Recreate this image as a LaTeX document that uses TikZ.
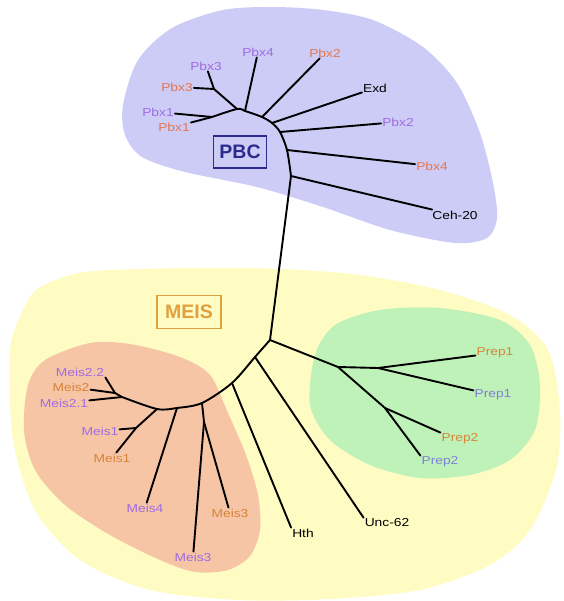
\documentclass[tikz,border=0pt]{standalone}
\usepackage{fontspec}
\setmainfont{Liberation Sans}
\newfontfamily\lblfont[FakeStretch=1.2]{Liberation Sans}

\definecolor{pbcbg}{HTML}{CCCCF7}
\definecolor{meisbg}{HTML}{FEFCC2}
\definecolor{meisonebg}{HTML}{F6C5A6}
\definecolor{prepbg}{HTML}{BFF2B8}
\definecolor{lilac}{HTML}{A06BE3}
\definecolor{pbxorange}{HTML}{E67650}
\definecolor{meisorange}{HTML}{D8843A}
\definecolor{prepblue}{HTML}{7F7FD8}
\definecolor{navy}{HTML}{2B2B8C}
\definecolor{gold}{HTML}{E0A040}

\begin{document}
\begin{tikzpicture}[x=1pt, y=-1pt,
    branch/.style={line width=1.9pt, line join=round, line cap=round},
    leaf/.style={inner sep=1pt, font=\fontsize{11.5}{12}\lblfont},
    pur/.style={leaf, text=lilac},
    org/.style={leaf, text=pbxorange},
    morg/.style={leaf, text=meisorange},
    blu/.style={leaf, text=prepblue},
    blk/.style={leaf, text=black},
    clade/.style={draw, line width=1.2pt, inner sep=2pt,
        font=\fontsize{19.5}{20}\selectfont\bfseries}]
    \useasboundingbox (0,0) rectangle (563,601);

    % Clades
    \fill [pbcbg] plot [smooth cycle] coordinates {(123,105) (138,60) (172,28)
        (223,10) (273,7) (323,10) (373,20) (423,47) (457,83) (480,133) (493,183)
        (497,218) (487,238) (455,243) (390,230) (323,207) (257,187) (185,172)
        (142,157) (125,135)};
    \fill [meisbg] plot [smooth cycle] coordinates {(10,352) (20,317) (36,290)
        (70,275) (110,270) (200,268) (280,269) (360,275) (440,290) (510,315)
        (548,350) (560,410) (556,470) (530,530) (490,565) (420,590) (330,599)
        (240,600) (150,590) (80,560) (35,510) (13,440)};
    \fill [meisonebg] plot [smooth cycle] coordinates {(28,385) (45,360) (90,343)
        (130,344) (180,357) (210,375) (228,413) (246,455) (258,495) (260,530)
        (250,556) (228,570) (195,572) (160,560) (110,535) (65,505) (35,470)
        (24,430)};
    \fill [prepbg] plot [smooth cycle] coordinates {(315,355) (335,325) (380,310)
        (440,308) (500,320) (530,345) (540,385) (535,430) (510,460) (470,475)
        (420,478) (370,465) (330,440) (310,405)};

    % Boxes
    \node [clade, draw=navy, text=navy, minimum width=53pt, minimum height=32pt]
        (pbc) at (240,152) {PBC};
    \node [clade, draw=gold, text=gold, minimum width=64pt, minimum height=33pt]
        (meis) at (189,312) {MEIS};

    % Inner nodes
    \coordinate (p1) at (212,117);
    \coordinate (p3) at (214,89);
    \coordinate (pA) at (237,109);
    \coordinate (pB) at (245,111);
    \coordinate (pC) at (262,117);
    \coordinate (pD) at (272,123);
    \coordinate (pE) at (280,132);
    \coordinate (pF) at (287,150);
    \coordinate (pG) at (291,176);
    \coordinate (m0) at (270,340);
    \coordinate (m1) at (255,357);
    \coordinate (m2) at (232,383);
    \coordinate (m3) at (202,403);
    \coordinate (m3a) at (204,422);
    \coordinate (m4) at (177,408);
    \coordinate (m5) at (157,409);
    \coordinate (m5a) at (136,428);
    \coordinate (m6) at (122,397);
    \coordinate (m6a) at (115,393);
    \coordinate (g0) at (338,367);
    \coordinate (g1) at (378,368);
    \coordinate (g2) at (385,408);

    % Leaves
    \node [pur]  (pbx1a)  at (158,112) {Pbx1};
    \node [org]  (pbx1b)  at (174,127) {Pbx1};
    \node [org]  (pbx3b)  at (177,87)  {Pbx3};
    \node [pur]  (pbx3a)  at (206,66)  {Pbx3};
    \node [pur]  (pbx4a)  at (258,52)  {Pbx4};
    \node [org]  (pbx2b)  at (325,53)  {Pbx2};
    \node [blk]  (exd)    at (375,88)  {Exd};
    \node [pur]  (pbx2a)  at (398,122) {Pbx2};
    \node [org]  (pbx4b)  at (432,166) {Pbx4};
    \node [blk]  (ceh)    at (455,215) {Ceh-20};
    \node [pur]  (meis22) at (80,372)  {Meis2.2};
    \node [morg] (meis2)  at (71,387)  {Meis2};
    \node [pur]  (meis21) at (64,403)  {Meis2.1};
    \node [pur]  (meis1a) at (100,431) {Meis1};
    \node [morg] (meis1b) at (112,458) {Meis1};
    \node [pur]  (meis4)  at (145,508) {Meis4};
    \node [pur]  (meis3a) at (193,557) {Meis3};
    \node [morg] (meis3b) at (230,513) {Meis3};
    \node [blk]  (hth)    at (303,533) {Hth};
    \node [blk]  (unc)    at (387,523) {Unc-62};
    \node [morg] (prep1b) at (495,353) {Prep1};
    \node [blu]  (prep1a) at (493,395) {Prep1};
    \node [morg] (prep2b) at (460,439) {Prep2};
    \node [blu]  (prep2a) at (440,462) {Prep2};

    % Backbone
    \draw [branch] plot [smooth] coordinates {(p1) (pA) (pB) (pC) (pD) (pE) (pF) (pG)};
    \draw [branch] (pG) -- (m0);
    \draw [branch] plot [smooth] coordinates {(m0) (m1) (m2) (m3) (m4) (m5) (m6)};
    \draw [branch] (p3) -- (pA);
    \draw [branch] (m6) -- (m6a);
    \draw [branch] (m3) -- (m3a);
    \draw [branch] (m5) -- (m5a);
    \draw [branch] (m0) -- (g0) -- (g1);
    \draw [branch] (g0) -- (g2);

    % Paths
    \path [branch] (p1)  edge (pbx1a);
    \path [branch] (p1)  edge (pbx1b);
    \path [branch] (p3)  edge (pbx3b);
    \path [branch] (p3)  edge (pbx3a);
    \path [branch] (pB)  edge (pbx4a);
    \path [branch] (pC)  edge (pbx2b);
    \path [branch] (pD)  edge (exd);
    \path [branch] (pE)  edge (pbx2a);
    \path [branch] (pF)  edge (pbx4b);
    \path [branch] (pG)  edge (ceh);

    \path [branch] (m6a) edge (meis22.south east);
    \path [branch] (m6a) edge (meis2);
    \path [branch] (m6)  edge (meis21);
    \path [branch] (m5a) edge (meis1a);
    \path [branch] (m5a) edge (meis1b);
    \path [branch] (m4)  edge (meis4);
    \path [branch] (m3a) edge (meis3a);
    \path [branch] (m3a) edge (meis3b);
    \path [branch] (m2)  edge (hth.north west);
    \path [branch] (m1)  edge (unc.north west);

    \path [branch] (g1)  edge (prep1b);
    \path [branch] (g1)  edge (prep1a);
    \path [branch] (g2)  edge (prep2b.north west);
    \path [branch] (g2)  edge (prep2a.north west);
\end{tikzpicture}
\end{document}
